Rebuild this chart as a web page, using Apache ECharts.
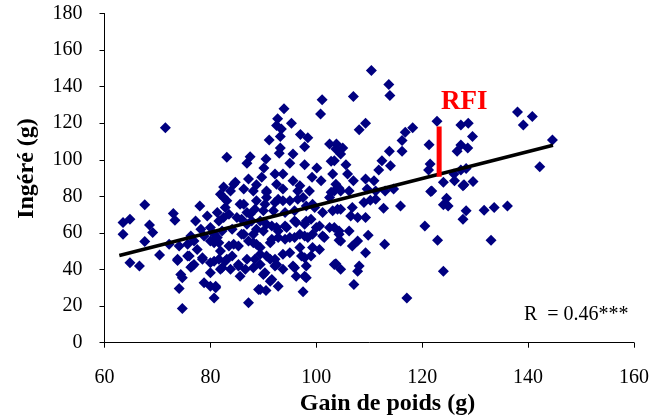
<!DOCTYPE html>
<html><head><meta charset="utf-8">
<script src="https://cdn.jsdelivr.net/npm/echarts@6/dist/echarts.min.js"></script>
<style>html,body{margin:0;padding:0;background:#fff}#c{width:652px;height:419px}</style>
</head><body><div id="c"></div>
<script>
var gain = [71.5,83.1,82.5,101.1,100.8,93.9,92.7,95.3,93.4,92.5,97.0,98.4,91.1,93.2,97.8,93.2,93.0,95.6,87.5,86.9,90.5,90.1,95.0,97.8,100.1,102.5,103.7,102.8,103.1,100.9,99.2,93.7,92.2,89.7,84.7,87.2,88.7,95.6,96.9,92.5,90.6,103.4,
110.4,113.7,113.9,107.0,109.3,108.1,118.2,116.8,116.2,121.3,103.8,105.0,104.6,103.4,105.6,113.8,116.2,112.4,114.0,111.8,121.5,121.2,105.9,107.0,109.3,110.9,103.7,104.3,109.6,114.6,113.0,124.0,121.8,122.8,
138.0,140.8,139.1,144.6,142.2,127.3,128.7,129.5,127.3,128.6,126.6,127.3,128.3,126.0,126.1,127.9,129.6,
67.6,64.8,63.5,63.5,68.5,69.1,67.6,73.0,73.3,78.0,77.2,79.4,80.0,78.2,76.3,72.2,74.1,75.7,76.9,81.3,82.5,82.8,82.5,80.7,70.4,64.8,66.6,73.8,75.7,76.9,78.5,76.3,74.4,74.7,74.1,78.8,80.0,81.0,80.7,74.7,80.7,81.9,80.0,81.9,82.8,
87.2,97.5,92.8,90.5,89.1,91.3,85.6,83.8,88.1,90.0,92.5,93.7,95.9,97.8,103.4,102.5,101.2,99.3,97.8,96.9,95.0,93.7,92.2,90.6,89.4,86.9,85.3,83.1,84.4,86.3,88.1,89.4,91.3,92.8,95.0,96.9,98.4,100.0,98.1,96.2,94.1,92.5,90.6,88.7,86.9,85.0,83.5,85.6,88.7,90.6,92.8,95.0,97.5,99.3,101.2,103.1,102.5,98.7,96.5,93.7,90.6,88.1,86.3,83.8,83.1,91.9,90.0,94.1,95.9,87.5,
112.7,115.9,121.6,124.0,120.5,122.9,124.0,117.1,107.1,107.8,108.1,104.6,103.7,109.3,106.8,107.8,109.8,112.9,106.2,104.3,104.3,103.4,104.6,106.8,109.0,110.2,107.8,109.3,106.5,106.2,111.2,111.2,
124.6,124.9,127.7,128.3,127.7,131.7,133.6,136.1,133.0,
81.9,84.4,86.3,86.9,88.4,90.3,92.2,93.7,96.5,98.1,99.7,102.8,104.6,104.0,81.3,81.6,78.8,80.7,82.2,84.1,85.9,87.8,89.4,85.9,88.1,90.0,91.6,92.8,94.4,95.9,97.8,99.0,100.6,104.3,97.8,99.3,95.9,94.1,91.6,88.7,87.2,85.3,83.5,81.6,80.0,77.5,76.0,73.8,76.6,78.5,80.0,81.6,82.2,84.1,85.3,86.6,88.4,89.4,91.3,92.2,95.6,98.1,97.2,99.0,100.6,101.5,104.6,81.0,89.4,91.6,90.3,96.2,98.1];
var ingere = [117.5,101.4,85.2,132.8,125.1,127.9,122.4,120.0,116.9,118.7,113.8,112.0,110.9,112.7,107.2,106.5,103.6,103.2,101.7,98.1,100.4,95.5,98.1,97.3,95.5,108.7,105.9,99.2,92.2,88.5,90.4,92.2,92.2,90.4,87.7,89.5,86.3,88.5,85.8,86.7,83.0,83.0,
148.9,141.2,135.2,134.6,120.0,116.4,117.5,115.1,110.5,108.3,108.7,106.5,103.2,99.5,97.3,104.7,104.7,99.5,96.8,94.4,97.7,94.4,92.2,88.5,89.5,88.5,86.7,84.5,84.0,84.0,83.0,87.7,83.0,121.1,
126.1,123.7,119.1,110.9,96.2,119.1,120.0,112.7,108.1,106.5,104.7,94.4,95.3,92.2,88.5,86.3,88.2,
75.4,67.5,65.7,59.3,64.4,60.2,55.3,70.6,67.0,74.8,66.6,69.3,63.0,62.0,58.3,53.8,52.9,53.8,55.6,57.5,79.4,73.9,68.4,54.7,47.9,43.7,41.9,45.0,47.4,42.8,45.6,41.3,37.3,35.5,29.6,32.8,30.9,30.0,24.5,18.7,44.6,40.1,38.3,50.1,44.6,
21.8,27.8,30.9,28.5,29.1,33.6,36.4,40.1,41.0,37.3,42.8,40.1,41.0,36.4,42.8,63.0,58.3,52.0,46.5,52.0,49.2,48.3,45.6,47.4,42.8,45.6,42.8,45.6,53.8,59.3,54.7,52.0,54.7,57.5,57.5,59.3,57.5,63.0,66.6,65.7,63.8,63.0,64.8,62.0,64.8,68.4,70.3,75.7,77.6,79.4,78.5,77.6,79.4,75.7,71.2,72.1,79.4,83.0,83.0,84.0,82.2,83.0,84.0,83.0,77.6,72.1,72.1,71.2,72.1,70.3,
73.5,74.8,82.7,75.4,63.8,56.0,39.1,24.5,31.8,39.1,41.9,40.1,43.2,49.2,52.9,55.6,58.7,53.8,61.1,59.3,56.0,63.0,73.0,73.9,76.7,77.9,68.4,68.4,69.3,83.0,83.0,78.5,
79.0,74.8,85.8,72.1,67.5,72.4,73.9,74.8,56.0,
81.2,86.7,75.7,71.2,73.0,75.7,76.7,77.6,78.5,74.8,73.9,82.2,83.0,73.0,71.2,66.6,58.3,59.3,61.1,62.0,67.5,66.6,66.6,59.3,59.3,61.1,63.8,61.1,63.0,66.6,64.8,67.5,63.8,61.1,58.3,59.3,57.5,56.5,56.5,53.8,55.6,52.9,52.9,54.7,55.6,51.0,47.4,45.6,41.9,46.5,43.7,45.6,41.0,47.4,41.9,40.1,45.6,48.3,45.6,41.9,41.9,41.9,47.4,47.4,51.0,57.5,55.6,30.9,29.1,34.6,38.3,36.4,35.5];
var regLineX = [62.8, 144.7];
var regLineY = [47.7, 108.0];
var rfiX = [123.2, 123.2];
var rfiY = [90.7, 118.2];
var xTicks = [60, 80, 100, 120, 140, 160];
var yTicks = [0, 20, 40, 60, 80, 100, 120, 140, 160, 180];

var pts = gain.map(function (g, i) { return [g, ingere[i]]; });
var chart = echarts.init(document.getElementById('c'), null, {renderer: 'canvas'});
var serif = '"Liberation Serif","Times New Roman",serif';
chart.setOption({
  animation: false,
  backgroundColor: '#fff',
  grid: {left: 104.5, right: 12.5, top: 13.5, bottom: 76.3, containLabel: false},
  xAxis: {
    type: 'value', min: xTicks[0], max: xTicks[xTicks.length - 1], interval: 20,
    axisLine: {show: true, lineStyle: {color: '#000', width: 1}},
    axisTick: {show: true, length: 5, inside: false, lineStyle: {color: '#000'}},
    axisLabel: {margin: 25, fontFamily: serif, fontSize: 20, color: '#000'},
    splitLine: {show: false}
  },
  yAxis: {
    type: 'value', min: yTicks[0], max: yTicks[yTicks.length - 1], interval: 20,
    axisLine: {show: true, lineStyle: {color: '#000', width: 1}},
    axisTick: {show: true, length: 5, inside: false, lineStyle: {color: '#000'}},
    axisLabel: {margin: 22, fontFamily: serif, fontSize: 20, color: '#000', padding: [8, 0, 0, 0]},
    splitLine: {show: false}
  },
  series: [
    {type: 'scatter', data: pts, symbol: 'diamond', symbolSize: 11,
     itemStyle: {color: '#000080', opacity: 1}, z: 2},
    {type: 'line', data: regLineX.map(function (x, i) { return [x, regLineY[i]]; }),
     symbol: 'none', lineStyle: {color: '#000', width: 3.5}, z: 3},
    {type: 'line', data: rfiX.map(function (x, i) { return [x, rfiY[i]]; }),
     symbol: 'none', lineStyle: {color: '#ff0000', width: 5, cap: 'butt'}, z: 4}
  ],
  graphic: [
    {type: 'text', x: 387.5, y: 404, z: 10,
     style: {text: 'Gain de poids (g)', fontFamily: serif, fontSize: 24, fontWeight: 'bold', fill: '#000',
             textAlign: 'center', textVerticalAlign: 'middle'}},
    {type: 'text', x: 27, y: 168.5, rotation: Math.PI / 2, z: 10,
     style: {text: 'Ingéré (g)', fontFamily: serif, fontSize: 24, fontWeight: 'bold', fill: '#000',
             textAlign: 'center', textVerticalAlign: 'middle'}},
    {type: 'text', left: 441, top: 89, z: 10,
     style: {text: 'RFI', fontFamily: serif, fontSize: 27, fontWeight: 'bold', fill: '#ff0000'}},
    {type: 'text', left: 524, top: 305, z: 10,
     style: {text: 'R  = 0.46***', fontFamily: serif, fontSize: 20, fill: '#000'}}
  ]
});
</script></body></html>
